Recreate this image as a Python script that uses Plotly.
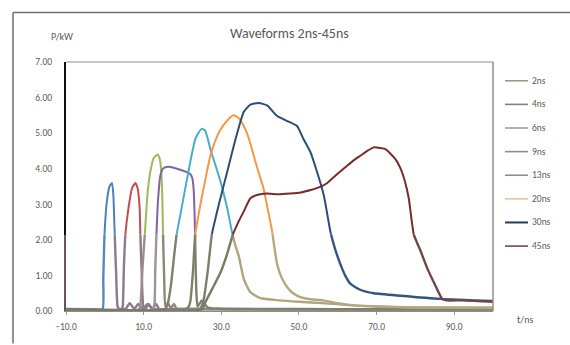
import numpy as np
import plotly.graph_objects as go

# ---------------- data ----------------
names = ["2ns", "4ns", "6ns", "9ns", "13ns", "20ns", "30ns", "45ns"]

t_2ns = [-10, -3, -0.6, -0.4, -0.1, 0.15, 0.6, 1.2, 1.86, 2.2, 2.55, 2.9, 3.3, 3.7, 5.4, 6.4, 7.6, 8.6, 9.8, 11.0, 12.2, 13.5, 20, 40, 60, 80, 100]
p_2ns = [0.06, 0.05, 0.05, 0.9, 2.1, 2.6, 3.15, 3.5, 3.6, 3.25, 2.15, 1.1, 0.12, 0.06, 0.06, 0.22, 0.06, 0.2, 0.06, 0.2, 0.06, 0.05, 0.05, 0.05, 0.05, 0.05, 0.05]

t_4ns = [-10, 4.3, 4.6, 4.9, 5.3, 6.1, 7.0, 7.86, 8.45, 8.97, 9.15, 9.5, 9.95, 10.5, 11.3, 12.2, 13.2, 14.0, 20, 40, 60, 80, 100]
p_4ns = [0.05, 0.05, 0.12, 1.2, 2.15, 2.9, 3.45, 3.6, 3.45, 2.9, 2.15, 1.1, 0.12, 0.06, 0.2, 0.06, 0.2, 0.06, 0.06, 0.05, 0.05, 0.05, 0.05]

t_6ns = [-10, 8.8, 9.2, 9.7, 10.3, 11.0, 11.7, 12.6, 13.6, 14.2, 14.6, 14.85, 15.0, 15.3, 15.6, 16.3, 17.0, 17.8, 18.5, 20, 40, 60, 80, 100]
p_6ns = [0.05, 0.05, 0.2, 1.2, 2.15, 3.3, 3.9, 4.3, 4.4, 4.25, 3.8, 3.0, 2.15, 0.9, 0.12, 0.22, 0.07, 0.2, 0.06, 0.06, 0.05, 0.05, 0.05, 0.05]

t_9ns = [-10, 12.4, 12.8, 13.0, 13.3, 13.7, 14.3, 15.0, 15.85, 17.0, 18.6, 20.0, 21.2, 22.0, 22.5, 22.9, 23.15, 23.35, 23.6, 23.9, 25.0, 26.5, 30, 40, 60, 80, 100]
p_9ns = [0.05, 0.05, 0.2, 1.2, 2.15, 3.1, 3.8, 4.0, 4.05, 4.05, 4.0, 3.95, 3.9, 3.85, 3.75, 3.4, 2.6, 1.5, 0.5, 0.12, 0.3, 0.1, 0.06, 0.06, 0.05, 0.05, 0.05]

t_13ns = [-10, 15.5, 16.2, 17.0, 17.8, 18.5, 19.45, 20.3, 21.2, 22.3, 23.3, 24.2, 25.0, 25.8, 26.5, 27.2, 28.5, 29.8, 31.5, 32.9, 33.6, 34.5, 35.8, 37.5, 40.1, 45, 50, 56, 65, 80, 100]
p_13ns = [0.05, 0.05, 0.2, 0.7, 1.5, 2.15, 2.7, 3.2, 3.72, 4.35, 4.83, 5.02, 5.12, 5.08, 4.85, 4.55, 4.1, 3.64, 2.9, 2.15, 1.85, 1.55, 0.9, 0.53, 0.36, 0.3, 0.26, 0.22, 0.15, 0.1, 0.08]

t_20ns = [-10, 21.0, 21.6, 22.0, 22.7, 23.3, 24.6, 25.9, 27.2, 28.5, 29.8, 31.5, 33.2, 34.5, 35.8, 37.1, 38.35, 39.6, 40.9, 42.0, 43.1, 43.6, 44.4, 45.5, 47.0, 48.5, 50.4, 53, 56.3, 60, 65, 70, 80, 90, 100]
p_20ns = [0.05, 0.05, 0.12, 0.25, 1.1, 2.15, 2.98, 3.7, 4.37, 4.8, 5.1, 5.35, 5.5, 5.42, 5.2, 4.85, 4.37, 3.9, 3.44, 2.85, 2.24, 1.85, 1.31, 0.95, 0.67, 0.5, 0.39, 0.33, 0.3, 0.22, 0.15, 0.12, 0.1, 0.1, 0.1]

t_30ns = [-10, 24.5, 25.0, 25.5, 26.6, 27.6, 29.5, 31.5, 33.6, 35.8, 37.5, 39.6, 41.8, 44.4, 47.0, 49.5, 51.2, 53.0, 54.7, 56.4, 58.1, 59.3, 60.7, 62.0, 63.3, 65.9, 69.3, 76.2, 86.5, 100]
p_30ns = [0.05, 0.05, 0.15, 0.34, 1.2, 2.17, 3.05, 3.9, 4.8, 5.6, 5.8, 5.85, 5.78, 5.48, 5.34, 5.2, 4.83, 4.46, 3.9, 3.26, 2.24, 1.75, 1.31, 0.98, 0.76, 0.59, 0.5, 0.43, 0.34, 0.28]

t_45ns = [-10, 25.0, 25.9, 27.8, 29.8, 31.5, 33.0, 34.4, 35.8, 37.5, 39.2, 41.8, 44.5, 47.8, 50.5, 53.0, 55.5, 57.3, 59.0, 61.5, 63.7, 65.9, 67.6, 69.3, 71.0, 72.3, 73.6, 75.0, 76.2, 77.3, 78.3, 79.6, 81.3, 83.0, 85.0, 86.9, 88, 92, 96, 100]
p_45ns = [0.05, 0.05, 0.25, 0.65, 1.08, 1.6, 2.15, 2.5, 2.8, 3.17, 3.26, 3.3, 3.28, 3.3, 3.33, 3.4, 3.49, 3.6, 3.77, 4.0, 4.2, 4.37, 4.5, 4.6, 4.58, 4.55, 4.42, 4.25, 4.0, 3.65, 3.17, 2.15, 1.7, 1.22, 0.75, 0.34, 0.3, 0.3, 0.28, 0.26]

times = [t_2ns, t_4ns, t_6ns, t_9ns, t_13ns, t_20ns, t_30ns, t_45ns]
powers = [p_2ns, p_4ns, p_6ns, p_9ns, p_13ns, p_20ns, p_30ns, p_45ns]

x_ticks = [-10, 10, 30, 50, 70, 90]
y_ticks_low = [0, 1, 2]
y_ticks_high = [3, 4, 5, 6, 7]

# ---------------- styles ----------------
SPLIT = 2.15
YMAX = 7.0
upper_colors = ["#4f81bd", "#c0504d", "#9bbb59", "#8064a2", "#4bacc6", "#f79646", "#2c4d75", "#772c2a"]
rise_colors = ["#5a86c0", "#8c7b8c", "#9a8c90", "#9d9399", "#7f7f6b", "#7f7f6b", "#7f7f6b", "#7a7a66"]
fall_colors = ["#8c7b8c", "#8c7b8c", "#8c8778", "#80806c", "#b0a57f", "#b4a883", "#34557f", "#6d4844"]
legend_colors = ["#9a9a8a", "#7f7f7f", "#a59f8a", "#8c8c8c", "#8c8c8c", "#eec49a", "#233a5a", "#6e4c4c"]

FONT = "Carlito, Lato, 'Open Sans', sans-serif"
TXT = "#595959"
SMOOTH = 0.5

fig = go.Figure()
for i, name in enumerate(names):
    t = np.array(times[i], dtype=float)
    p = np.array(powers[i], dtype=float)
    k = int(np.argmax(p))
    fig.add_trace(go.Scatter(x=t[:k + 1], y=p[:k + 1], mode="lines", xaxis="x", yaxis="y",
                             line=dict(color=rise_colors[i], width=2.4, shape="spline", smoothing=SMOOTH),
                             showlegend=False, hoverinfo="skip"))
    fig.add_trace(go.Scatter(x=t[k:], y=p[k:], mode="lines", xaxis="x", yaxis="y",
                             line=dict(color=fall_colors[i], width=2.4, shape="spline", smoothing=SMOOTH),
                             showlegend=False, hoverinfo="skip"))
    fig.add_trace(go.Scatter(x=t, y=p, mode="lines", xaxis="x", yaxis="y2", name=name,
                             line=dict(color=upper_colors[i], width=2.0, shape="spline", smoothing=SMOOTH),
                             showlegend=False))

# ---------------- layout ----------------
W, H = 570, 345
L, R, T, B = 66, 77, 62, 31
pw, ph = W - L - R, H - T - B

def px(xp):
    return (xp - L) / pw

def py(yp):
    return (H - B - yp) / ph

frac = SPLIT / YMAX
tickfont = dict(family=FONT, size=9.5, color=TXT)

fig.update_layout(
    width=W, height=H, autosize=False,
    margin=dict(l=L, r=R, t=T, b=B),
    paper_bgcolor="white", plot_bgcolor="white",
    showlegend=False,
    font=dict(family=FONT, color=TXT),
    xaxis=dict(range=[-10, 100], tickvals=x_ticks, tickformat=".1f", tickfont=tickfont,
               showgrid=False, zeroline=False, showline=True, linecolor="#8c8c8c", linewidth=1,
               ticks="outside", ticklen=3, tickcolor="#9a9a9a", anchor="y",
               ticklabelstandoff=4),
    yaxis=dict(domain=[0, frac], range=[0, SPLIT], tickvals=y_ticks_low, tickformat=".2f",
               tickfont=tickfont, showgrid=False, zeroline=False, showline=True,
               linecolor="#6b5555", linewidth=1.5, ticks="", ticklabelstandoff=10, anchor="x"),
    yaxis2=dict(domain=[frac, 1], range=[SPLIT, YMAX], tickvals=y_ticks_high, tickformat=".2f",
                tickfont=tickfont, showgrid=False, zeroline=False, showline=True,
                linecolor="#111111", linewidth=2, ticks="", ticklabelstandoff=10, anchor="x"),
)

shapes = [
    dict(type="line", xref="paper", yref="paper", x0=0, x1=1, y0=1, y1=1, line=dict(color="#b5b5b5", width=1.5)),
    dict(type="line", xref="paper", yref="paper", x0=1, x1=1, y0=0, y1=1, line=dict(color="#8f8f8f", width=1.5)),
    dict(type="line", xref="paper", yref="paper", x0=px(13), x1=px(13), y0=py(H + 2), y1=py(12),
         line=dict(color="#6e6e6e", width=1.5)),
    dict(type="line", xref="paper", yref="paper", x0=px(13), x1=px(W + 2), y0=py(12), y1=py(12),
         line=dict(color="#6e6e6e", width=1.5)),
]

annotations = [
    dict(text="Waveforms 2ns-45ns", xref="paper", yref="paper", x=px(289), y=py(33),
         xanchor="center", yanchor="middle", showarrow=False, font=dict(family=FONT, size=14, color=TXT)),
    dict(text="P/kW", xref="paper", yref="paper", x=px(62), y=py(36),
         xanchor="center", yanchor="middle", showarrow=False, font=dict(family=FONT, size=10, color=TXT)),
    dict(text="t/ns", xref="paper", yref="paper", x=px(525), y=py(323),
         xanchor="center", yanchor="middle", showarrow=False, font=dict(family=FONT, size=10, color=TXT)),
]

for i, name in enumerate(names):
    yy = 81 + i * 23.9
    shapes.append(dict(type="line", xref="paper", yref="paper", x0=px(505), x1=px(528), y0=py(yy), y1=py(yy),
                       line=dict(color=legend_colors[i], width=2 if i == 6 else 1.6)))
    annotations.append(dict(text=name, xref="paper", yref="paper", x=px(530), y=py(yy),
                            xanchor="left", yanchor="middle", showarrow=False,
                            font=dict(family=FONT, size=9.5, color=TXT)))

fig.update_layout(shapes=shapes, annotations=annotations)

fig.write_html("out.html")
